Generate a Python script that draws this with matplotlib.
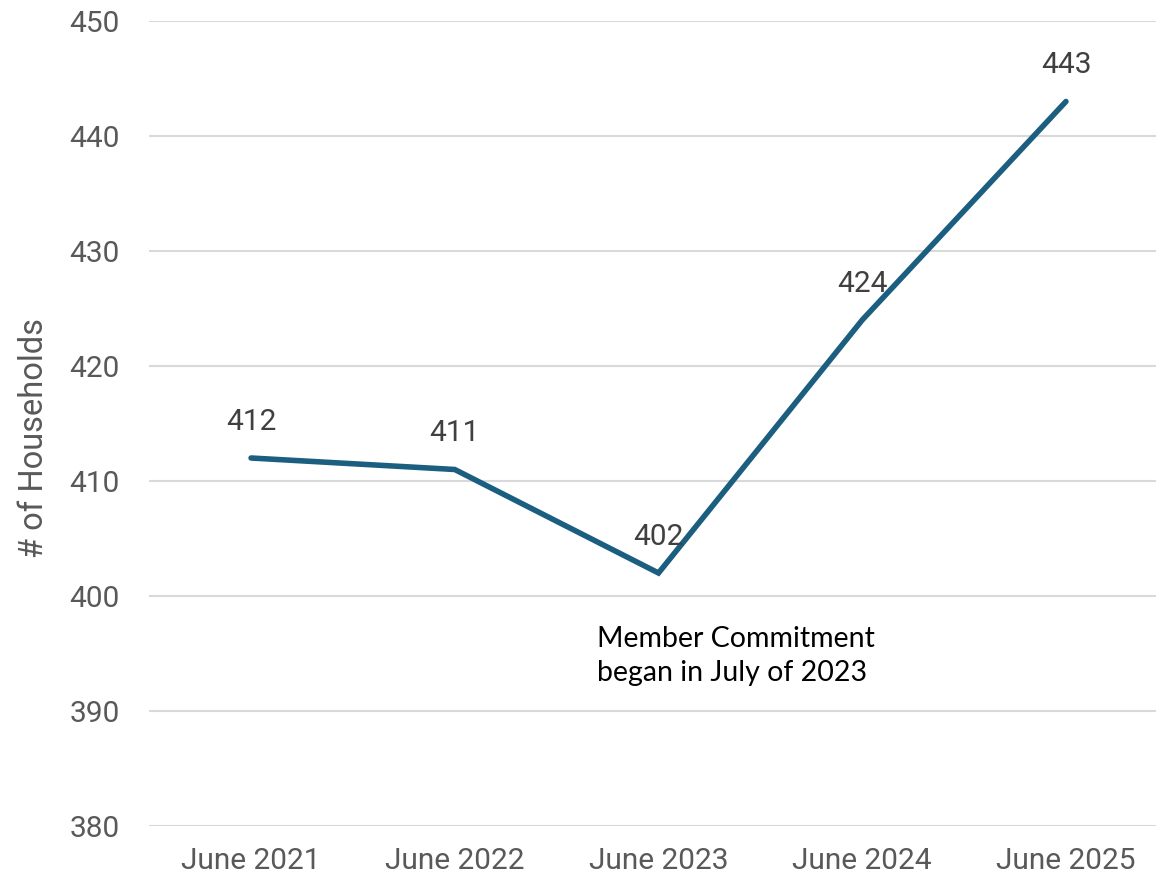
import matplotlib
matplotlib.use("Agg")
import matplotlib.pyplot as plt

categories = ["June 2021", "June 2022", "June 2023", "June 2024", "June 2025"]
households = [412, 411, 402, 424, 443]
y_ticks = [380, 390, 400, 410, 420, 430, 440, 450]
note_text = "Member Commitment\nbegan in July of 2023"

plt.rcParams['font.family'] = ['Roboto', 'DejaVu Sans']

W, H = 1156, 880
fig = plt.figure(figsize=(W / 100, H / 100), dpi=100)
left, right = 149.2, 1167.8
bottom, top = 826, 21
ax = fig.add_axes([left / W, (H - bottom) / H, (right - left) / W, (bottom - top) / H])

x = list(range(len(categories)))
ax.plot(x, households, color="#1B5E80", lw=4.0, solid_capstyle="round", solid_joinstyle="miter", zorder=3)

for xi, v in zip(x, households):
    ax.annotate(str(v), (xi, v), xytext=(0, 26), textcoords="offset points",
                ha="center", va="center", fontsize=21.5, color="#404040", zorder=4)

ax.set_xlim(-0.5, len(categories) - 0.5)
ax.set_ylim(380, 450)
ax.set_yticks(y_ticks)
ax.set_xticks(x)
ax.set_xticklabels(categories)
ax.tick_params(axis="both", length=0, labelsize=21.5, labelcolor="#595959")
ax.tick_params(axis="y", pad=21)
ax.tick_params(axis="x", pad=15)
ax.grid(axis="y", color="#D9D9D9", lw=1.5)
ax.set_axisbelow(True)
for s in ax.spines.values():
    s.set_visible(False)

ax.set_ylabel("# of Households", fontsize=23.5, color="#595959")
ax.yaxis.set_label_coords(-0.097, 0.482)

ax.text(1.699, 394.8, note_text, ha="left", va="center", fontsize=20.5,
        color="#000000", linespacing=1.36, family=["Lato", "DejaVu Sans"])

fig.savefig("out.png", dpi=100)
